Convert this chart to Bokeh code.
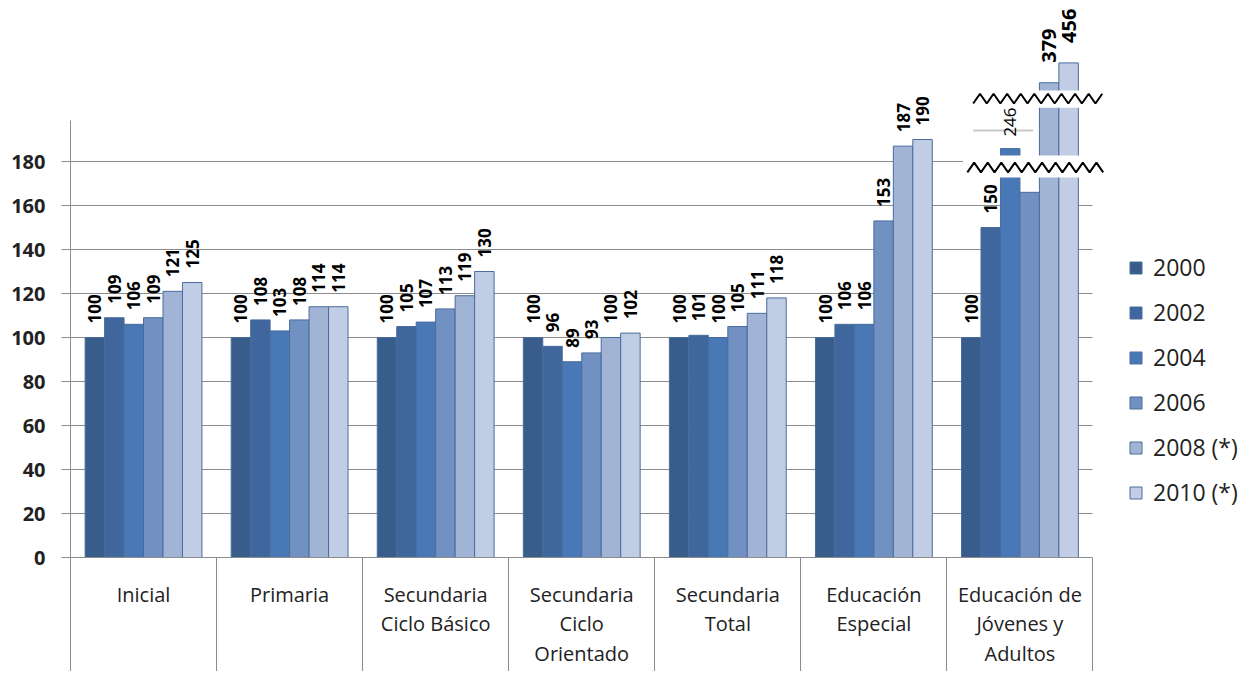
import numpy as np
from bokeh.plotting import figure
from bokeh.models import ColumnDataSource, FixedTicker, Range1d, Legend, LegendItem
from bokeh.embed import file_html
from bokeh.resources import INLINE
from bokeh.core.properties import value

# ---------------- data ----------------
categories = ["Inicial", "Primaria", "Secundaria\nCiclo Básico", "Secundaria\nCiclo\nOrientado",
              "Secundaria\nTotal", "Educación\nEspecial", "Educación de\nJóvenes y\nAdultos"]
years = ["2000", "2002", "2004", "2006", "2008 (*)", "2010 (*)"]
v2000 = [100, 100, 100, 100, 100, 100, 100]
v2002 = [109, 108, 105, 96, 101, 106, 150]
v2004 = [106, 103, 107, 89, 100, 106, 246]
v2006 = [109, 108, 113, 93, 105, 153, 166]
v2008 = [121, 114, 119, 100, 111, 187, 379]
v2010 = [125, 114, 130, 102, 118, 190, 456]
series = [v2000, v2002, v2004, v2006, v2008, v2010]
hidden_labels = [(6, 3)]  # (category index, series index) without a value label
y_ticks = [0, 20, 40, 60, 80, 100, 120, 140, 160, 180]

# ---------------- style ----------------
colors = ["#385D8A", "#3F679D", "#4878B5", "#7291C3", "#A1B4D6", "#C1CDE4"]
outline = "#4A6C9C"
grid_gray = "#8C8C8C"
txt = "#222222"
FONT = "Open Sans"

# broken axis: (value start, display start, display units per value)
breaks = [(0, 0.0, 1.0), (230, 182.7, 0.198), (349, 212.3, 0.117)]
low_cut = 172.7


def disp(v):
    d, seg = v, 0
    for i, (vs, ds, k) in enumerate(breaks):
        if v >= vs:
            d, seg = ds + (v - vs) * k, i
    return d, seg


label_style = {0: ("17px", "bold", -14), 1: ("17px", "normal", -12), 2: ("20px", "bold", -20)}

ncat = len(categories)
nser = len(series)
bar_w = 0.1333

p = figure(width=1240, height=671, output_backend="svg", toolbar_location=None,
           x_range=Range1d(0, 8.01), y_range=Range1d(0, 253.2),
           min_border_left=70, min_border_right=0, min_border_top=0, min_border_bottom=114)
p.outline_line_color = None
p.background_fill_color = "white"
p.border_fill_color = "white"

renderers = []
for j, vals in enumerate(series):
    xs = [i + 0.5 + (j - (nser - 1) / 2) * bar_w for i in range(ncat)]
    tops = [disp(v)[0] for v in vals]
    src = ColumnDataSource(dict(x=xs, top=tops))
    r = p.vbar(x="x", top="top", bottom=0, width=bar_w, source=src,
               fill_color=colors[j], line_color=outline, line_width=1)
    renderers.append(r)

# value labels
lx, ly, lt, lsz, lst, loff = [], [], [], [], [], []
for j, vals in enumerate(series):
    for i, v in enumerate(vals):
        if (i, j) in hidden_labels:
            continue
        d, seg = disp(v)
        sz, st, off = label_style[seg]
        lx.append(i + 0.5 + (j - (nser - 1) / 2) * bar_w)
        ly.append(d)
        lt.append(str(v))
        lsz.append(sz)
        lst.append(st)
        loff.append(off)
lsrc = ColumnDataSource(dict(x=lx, y=ly, t=lt, sz=lsz, st=lst, off=loff))

# break bands
p.quad(left=[6.11, 6.155], right=[7.08, 7.09], bottom=[low_cut, 204.5], top=[182.7, 212.3],
       fill_color="white", line_color=None)
p.segment(x0=[6.18], y0=[194.1], x1=[6.59], y1=[194.1], line_color="#C8C8C8", line_width=2)


def zigzag(x0, x1, yc, amp, period):
    n = int((x1 - x0) / (period / 2))
    xs = [x0 + k * period / 2 for k in range(n + 1)]
    ys = [yc + (amp if k % 2 else -amp) for k in range(n + 1)]
    return xs, ys


zx, zy = zigzag(6.14, 7.07, 177.3, 2.2, 0.093)
p.line(zx, zy, line_color="black", line_width=2)
zx, zy = zigzag(6.18, 7.09, 208.6, 2.2, 0.093)
p.line(zx, zy, line_color="black", line_width=2)

p.text(x="x", y="y", text="t", source=lsrc, angle=np.pi / 2, text_align="left",
       text_baseline="middle", text_font=value(FONT), text_font_size="sz",
       text_font_style="st", y_offset="off", text_color="black")

# axes
yt = FixedTicker(ticks=y_ticks, minor_ticks=[])
p.yaxis.ticker = yt
p.yaxis.bounds = (0, 198.6)
p.yaxis.axis_line_color = grid_gray
p.yaxis.major_tick_line_color = grid_gray
p.yaxis.major_tick_out = 9
p.yaxis.major_tick_in = 0
p.yaxis.minor_tick_line_color = None
p.yaxis.major_label_standoff = 16
p.yaxis.major_label_text_font = FONT
p.yaxis.major_label_text_font_style = "bold"
p.yaxis.major_label_text_font_size = "20px"
p.yaxis.major_label_text_color = txt

centers = [i + 0.5 for i in range(ncat)]
bounds_x = [float(i) for i in range(ncat + 1)]
p.xaxis.ticker = FixedTicker(ticks=centers, minor_ticks=bounds_x)
p.xaxis.major_label_overrides = {c: n for c, n in zip(centers, categories)}
p.xaxis.bounds = (0, ncat)
p.xaxis.axis_line_color = grid_gray
p.xaxis.major_tick_out = 0
p.xaxis.major_tick_in = 0
p.xaxis.minor_tick_out = 114
p.xaxis.minor_tick_in = 0
p.xaxis.minor_tick_line_color = grid_gray
p.xaxis.major_label_standoff = -91
p.xaxis.major_label_text_font = FONT
p.xaxis.major_label_text_font_size = "20px"
p.xaxis.major_label_text_color = txt
p.xaxis.major_label_text_line_height = 1.10

p.xgrid.visible = False
p.ygrid.ticker = yt
p.ygrid.grid_line_color = grid_gray
p.ygrid.cross_bounds = (0, ncat)

legend = Legend(items=[LegendItem(label=y, renderers=[r]) for y, r in zip(years, renderers)],
                location=(1058, 49), orientation="vertical", glyph_width=15, glyph_height=15,
                spacing=13, padding=0, margin=0, border_line_color=None,
                background_fill_alpha=0, label_text_font=FONT, label_text_font_size="23px",
                label_text_color=txt, label_standoff=10)
p.add_layout(legend)

open("out.html", "w").write(file_html(p, INLINE))
